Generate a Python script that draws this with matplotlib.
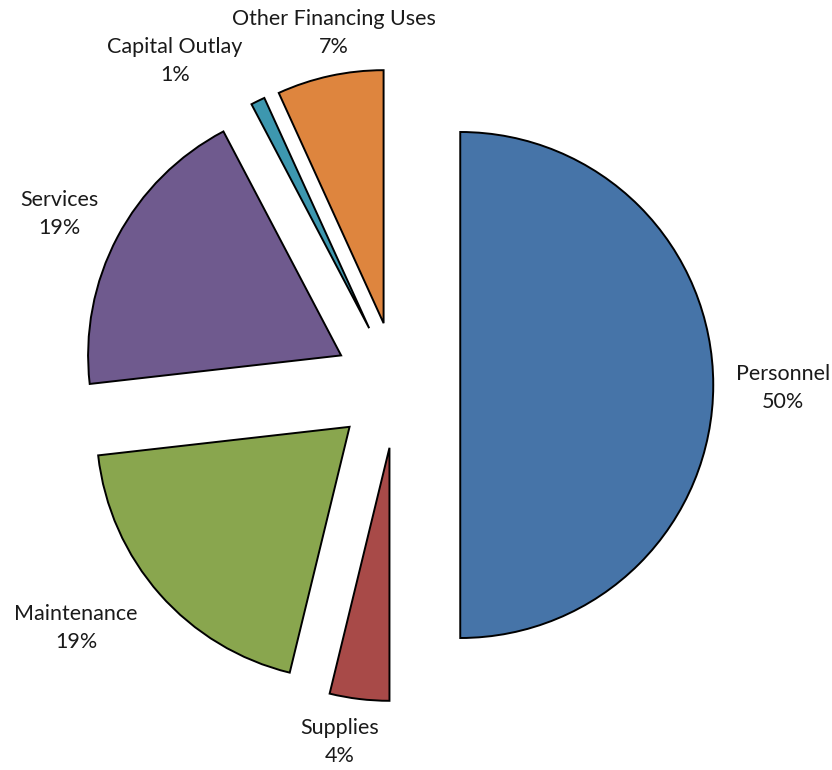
import matplotlib.pyplot as plt

# Expenditure breakdown (percent of total)
categories = ["Personnel", "Supplies", "Maintenance", "Services",
              "Capital Outlay", "Other Financing Uses"]
shares = [50.0, 3.8, 19.4, 19.1, 0.9, 6.8]
colors = ["#4674A8", "#A84A48", "#89A64E", "#6F5A8E", "#3D97AF", "#DE853E"]

# label anchor points (pixels from top-left)
label_pos = [(783, 388), (340, 742), (76, 628), (59, 214), (175, 61), (334, 33)]

W, H = 832, 770
R = 253
fig = plt.figure(figsize=(W / 100, H / 100), dpi=100)
ax = fig.add_axes([0, 0, 1, 1])

# explode is in data units here, so scale by the radius
ax.pie(shares, colors=colors, startangle=90, counterclock=False,
       explode=[0.25 * R] * len(shares), center=(397, H - 385), radius=R,
       wedgeprops=dict(edgecolor="black", linewidth=1.4))

total = sum(shares)
for name, val, (x, y) in zip(categories, shares, label_pos):
    ax.text(x, H - y, f"{name}\n{100 * val / total:.0f}%", ha="center",
            va="center", multialignment="center", fontsize=15.5,
            family="Lato", linespacing=1.55, color="#1a1a1a")

ax.set_xlim(0, W)
ax.set_ylim(0, H)
ax.set_aspect("equal")
ax.axis("off")

plt.savefig("out.png", dpi=100, facecolor="white")
